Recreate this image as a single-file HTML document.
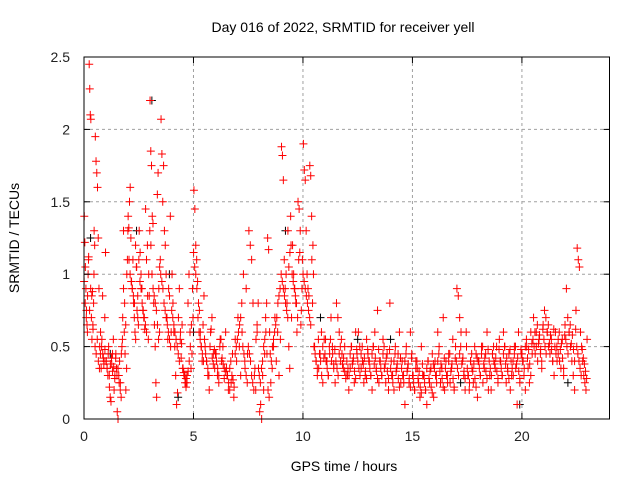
<!DOCTYPE html>
<html><head><meta charset="utf-8"><style>
body{margin:0;background:#fff}
svg{display:block;font-family:"Liberation Sans",sans-serif}
</style></head><body>
<svg id="chart" width="640" height="480" viewBox="0 0 640 480">
<rect width="640" height="480" fill="#fff"/>
<g id="grid"></g>
<g id="black"></g>
<g id="red"></g>
<rect x="84" y="57" width="525.5" height="362" fill="none" stroke="#000" stroke-width="1"/>
<g id="ticks"></g>
<text x="343" y="32" text-anchor="middle" font-size="14">Day 016 of 2022, SRMTID for receiver yell</text>
<text x="344" y="471" text-anchor="middle" font-size="14">GPS time / hours</text>
<text transform="translate(19,238) rotate(-90)" text-anchor="middle" font-size="14">SRMTID / TECUs</text>
</svg>
<script>
const xTicks=[0,5,10,15,20];
const yTicks=[0,0.5,1,1.5,2,2.5];
const yTickLabels=["0","0.5","1","1.5","2","2.5"];
const segStarts=[0,0.5,1,1.5,2,2.5,3,3.5,4,4.5,5,5.5,6,6.5,7,7.5,8,8.5,9,9.5,10,10.5,11,11.5,12,12.5,13,13.5,14,14.5,15,15.5,16,16.5,17,17.5,18,18.5,19,19.5,20,20.5,21,21.5,22,22.5];
const segValues=[
[1.4,1.22,1.05,0.9,0.75,0.65,0.85,1.0,1.12,2.45,2.28,2.1,2.07,0.7,0.55,0.88,0.62,0.8,1.3,1.2],
[1.95,1.78,1.7,1.6,1.25,0.9,0.5,0.45,0.35,0.55,0.85,0.42,0.4,0.7,1.15],
[0.4,0.35,0.3,0.5,0.22,0.15,0.12,0.38,0.45,0.55,0.2,0.3,0.42,0.35],
[0.05,0.0,0.3,0.4,0.25,0.15,0.5,0.7,1.3,0.6,0.45,0.2,0.35,1.1],
[1.4,1.32,1.5,1.6,1.25,0.95,0.9,1.1,0.8,0.7,0.6,0.55,1.05,0.75,0.85,0.65],
[1.3,1.15,1.0,0.9,0.75,0.7,0.62,1.45,1.1,1.2,0.55,0.85],
[2.2,1.85,1.75,1.4,1.35,0.8,0.65,0.5,0.25,0.15,1.55,1.7,0.9,0.6,1.1],
[2.07,1.83,1.5,1.75,1.3,1.2,1.0,0.7,0.55,0.9,0.85,1.4,0.6],
[1.0,0.8,0.6,0.5,0.3,0.1,0.18,0.7,0.9,0.55,0.42,0.65],
[0.35,0.3,0.25,0.22,0.3,0.8,1.0,0.6,0.35,0.45,0.7],
[1.58,1.45,1.2,1.1,0.95,0.8,0.75,0.6,0.5,0.4,0.65,0.85],
[0.5,0.4,0.3,0.2,0.6,0.7,0.45,0.35],
[0.45,0.3,0.25,0.55,0.4,0.5,0.35,0.6],
[0.3,0.2,0.35,0.25,0.45,0.15,0.55,0.4],
[0.7,0.5,0.3,0.6,1.0,0.4,0.9,0.45],
[1.3,1.2,1.1,0.8,0.3,0.2,0.6,0.35],
[0.05,0.1,0.0,0.3,0.2,0.45,0.7,0.8,1.25,1.17,0.6],
[0.25,0.35,0.5,0.7,0.4,0.6,0.3,0.55],
[1.88,1.82,1.65,1.1,0.9,1.0,0.8,1.3,0.5,0.35,1.4,0.7],
[1.2,1.0,0.9,0.8,0.6,1.5,1.45,1.3,0.75,1.1],
[1.9,1.72,1.65,1.3,1.0,0.9,0.85,1.75,1.68,1.4,0.8,1.0],
[0.5,0.4,0.3,0.35,0.45,0.6,0.25,0.55],
[0.55,0.4,0.3,0.45,0.7,0.5,0.35,0.25],
[0.8,0.7,0.6,0.4,0.45,0.35,0.5,0.3],
[0.3,0.2,0.35,0.5,0.4,0.25,0.6,0.45],
[0.6,0.5,0.35,0.4,0.25,0.3,0.55,0.45],
[0.4,0.3,0.2,0.5,0.6,0.35,0.75,0.25],
[0.4,0.3,0.55,0.35,0.25,0.45,0.2,0.8],
[0.4,0.3,0.2,0.5,0.35,0.45,0.6,0.25],
[0.4,0.3,0.1,0.5,0.35,0.25,0.6,0.45],
[0.3,0.2,0.4,0.35,0.25,0.15,0.5,0.3],
[0.3,0.2,0.1,0.4,0.25,0.35,0.45,0.15],
[0.4,0.3,0.6,0.5,0.25,0.35,0.7,0.2],
[0.4,0.3,0.45,0.25,0.35,0.55,0.2,0.5],
[0.9,0.85,0.7,0.6,0.4,0.3,0.2,0.5],
[0.3,0.2,0.4,0.35,0.25,0.5,0.45,0.15],
[0.4,0.3,0.5,0.25,0.35,0.45,0.6,0.2],
[0.3,0.2,0.45,0.4,0.35,0.5,0.25,0.55],
[0.4,0.3,0.6,0.5,0.25,0.35,0.45,0.2],
[0.3,0.4,0.5,0.35,0.1,0.6,0.25,0.45],
[0.4,0.3,0.2,0.5,0.35,0.25,0.6,0.45],
[0.7,0.6,0.5,0.4,0.55,0.45,0.35,0.65],
[0.75,0.7,0.6,0.5,0.45,0.55,0.4,0.3],
[0.6,0.5,0.45,0.4,0.35,0.55,0.3,0.65],
[0.9,0.7,0.6,0.5,0.4,0.3,0.2,0.75],
[1.18,1.1,1.05,0.6,0.5,0.4,0.3,0.25,0.2,0.55]
];
const segValuesExtra=[
[0.95,0.8,0.7,0.6,1.1,0.75,0.9,0.85,0.65,1.0],
[0.5,0.45,0.55,0.4,0.35,0.6,0.5,0.45,0.38,0.48],
[0.4,0.35,0.45,0.3,0.38,0.42,0.33,0.36,0.28,0.45],
[0.3,0.35,0.25,0.2,0.45,0.55,0.9,0.8,0.65,1.0],
[1.3,1.1,1.0,0.95,0.9,0.85,0.8,1.2,1.05,0.7],
[1.1,0.95,0.9,0.8,0.75,0.7,0.65,0.6,0.85,1.0],
[1.3,1.2,1.0,0.9,0.85,0.8,0.75,0.65,0.55,1.05],
[1.0,0.95,0.9,0.8,0.75,0.7,0.65,0.6,0.55,0.5],
[0.75,0.7,0.65,0.6,0.55,0.5,0.45,0.4,0.6,0.52],
[0.35,0.32,0.3,0.28,0.25,0.33,0.4,0.5,0.65,0.9],
[1.15,1.05,1.0,0.9,0.7,0.6,0.55,0.5,0.45,0.4],
[0.55,0.45,0.4,0.35,0.3,0.5,0.62,0.42,0.38,0.48],
[0.45,0.4,0.35,0.3,0.5,0.55,0.42,0.38,0.28,0.33],
[0.35,0.3,0.25,0.2,0.4,0.3,0.27,0.22,0.45,0.5],
[0.55,0.6,0.65,0.7,0.8,0.5,0.45,0.35,0.3,0.25],
[0.5,0.45,0.4,0.3,0.25,0.2,0.35,0.55,0.65,0.8],
[0.3,0.25,0.35,0.4,0.5,0.55,0.6,0.45,0.2,0.15],
[0.45,0.4,0.5,0.55,0.6,0.65,0.7,0.8,0.85,0.9],
[1.0,0.95,0.9,0.85,0.8,0.75,0.7,1.05,1.15,1.2],
[1.0,0.95,0.9,0.85,0.8,0.7,1.1,1.15,0.65,0.9],
[1.0,0.95,0.9,0.85,0.8,0.75,0.7,0.65,1.1,1.2],
[0.5,0.45,0.4,0.35,0.55,0.45,0.4,0.3,0.5,0.42],
[0.45,0.4,0.35,0.3,0.5,0.55,0.4,0.45,0.38,0.48],
[0.4,0.35,0.3,0.45,0.5,0.55,0.38,0.42,0.33,0.28],
[0.4,0.35,0.3,0.45,0.5,0.38,0.42,0.33,0.28,0.48],
[0.4,0.35,0.3,0.45,0.5,0.38,0.42,0.33,0.28,0.48],
[0.4,0.35,0.3,0.45,0.5,0.38,0.42,0.33,0.28,0.48],
[0.4,0.35,0.3,0.45,0.5,0.38,0.42,0.33,0.28,0.48],
[0.35,0.3,0.25,0.4,0.45,0.33,0.38,0.28,0.22,0.42],
[0.35,0.3,0.25,0.4,0.45,0.33,0.38,0.28,0.22,0.42],
[0.3,0.25,0.2,0.35,0.4,0.28,0.33,0.22,0.18,0.38],
[0.3,0.25,0.2,0.35,0.4,0.28,0.33,0.22,0.18,0.38],
[0.35,0.3,0.25,0.4,0.45,0.33,0.38,0.28,0.22,0.42],
[0.35,0.3,0.25,0.4,0.45,0.33,0.38,0.28,0.22,0.42],
[0.4,0.35,0.3,0.45,0.5,0.38,0.42,0.33,0.28,0.6],
[0.35,0.3,0.25,0.4,0.45,0.33,0.38,0.28,0.22,0.42],
[0.4,0.35,0.3,0.45,0.5,0.38,0.42,0.33,0.28,0.48],
[0.4,0.35,0.3,0.45,0.5,0.38,0.42,0.33,0.28,0.48],
[0.4,0.35,0.3,0.45,0.5,0.38,0.42,0.33,0.28,0.48],
[0.4,0.35,0.3,0.45,0.5,0.38,0.42,0.33,0.28,0.48],
[0.45,0.4,0.35,0.5,0.55,0.42,0.48,0.38,0.3,0.52],
[0.55,0.5,0.45,0.6,0.65,0.52,0.58,0.48,0.4,0.62],
[0.55,0.5,0.45,0.6,0.65,0.52,0.58,0.48,0.4,0.62],
[0.5,0.45,0.4,0.55,0.6,0.48,0.52,0.42,0.35,0.58],
[0.55,0.5,0.45,0.6,0.65,0.52,0.58,0.48,0.4,0.62],
[0.5,0.45,0.4,0.35,0.3,0.48,0.42,0.38,0.33,0.28]
];
const blackHours=[0.3,1.2,3.1,3.9,5.0,9.2,14.0,19.9,22.1,4.3,12.5,17.2,2.4,10.8];
const blackValues=[1.25,0.45,2.2,1.0,0.6,1.3,0.55,0.1,0.25,0.15,0.55,0.25,1.3,0.7];

const NS="http://www.w3.org/2000/svg";
const X0=84,X1=609.5,Y0=419,Y1=57;
function xs(h){return X0+(h/24)*(X1-X0);}
function ys(v){return Y0-(v/2.5)*(Y0-Y1);}
function mk(tag,attrs,parent){const e=document.createElementNS(NS,tag);for(const k in attrs)e.setAttribute(k,attrs[k]);parent.appendChild(e);return e;}
const grid=document.getElementById('grid'),ticks=document.getElementById('ticks');
xTicks.forEach(t=>{
  const x=xs(t);
  if(t>0){const g=mk('line',{x1:x,x2:x,y1:Y1,y2:Y0,stroke:'#a0a0a0','stroke-dasharray':'3,3'},grid);
  
  }
  mk('line',{x1:x,x2:x,y1:Y0,y2:Y0-6,stroke:'#000'},ticks);
  mk('line',{x1:x,x2:x,y1:Y1,y2:Y1+6,stroke:'#000'},ticks);
  const l=mk('text',{x:x,y:Y0+22,'text-anchor':'middle','font-size':'14',fill:'#222'},ticks);
  l.textContent=String(t);
  
  
});
yTicks.forEach((t,i)=>{
  const y=ys(t);
  if(t>0&&t<2.5){const g=mk('line',{x1:X0,x2:X1,y1:y,y2:y,stroke:'#a0a0a0','stroke-dasharray':'3,3'},grid);
  
  }
  mk('line',{x1:X0,x2:X0+6,y1:y,y2:y,stroke:'#000'},ticks);
  mk('line',{x1:X1,x2:X1-6,y1:y,y2:y,stroke:'#000'},ticks);
  const l=mk('text',{x:X0-14,y:y+5,'text-anchor':'end','font-size':'14',fill:'#222'},ticks);
  l.textContent=yTickLabels[i];
  
  
});
function plus(h,v,col,parent,name){
  const x=xs(h),y=ys(v);
  const p=mk('path',{d:`M${x-4},${y}H${x+4}M${x},${y-4}V${y+4}`,stroke:col,'stroke-width':'1',fill:'none'},parent);
  
  
}
const black=document.getElementById('black'),red=document.getElementById('red');
blackHours.forEach((h,i)=>plus(h,blackValues[i],'#000',black,'black-point'));
function drawSegs(arr,phase){
  segStarts.forEach((s,si)=>{
    const vals=arr[si];
    vals.forEach((v,i)=>plus(s+0.5*(i+phase)/vals.length,v,'#ff0000',red,'red-point'));
  });
}
drawSegs(segValues,0.5);
drawSegs(segValuesExtra,0.1);
</script>
</body></html>
